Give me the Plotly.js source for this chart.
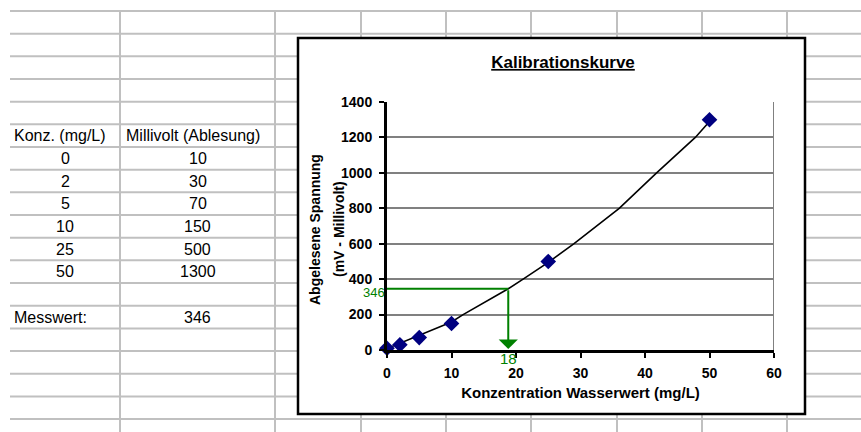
<!DOCTYPE html>
<html>
<head>
<meta charset="utf-8">
<script src="https://cdn.plot.ly/plotly-3.0.1.min.js"></script>
<style>
  html, body { margin: 0; padding: 0; background: #ffffff; }
  #chart { width: 861px; height: 432px; }
</style>
</head>
<body>
<div id="chart"></div>
<script>
// ---- data ----
const konz = [0, 2, 5, 10, 25, 50];                 // Konz. (mg/L)
const millivolt = [10, 30, 70, 150, 500, 1300];      // Millivolt (Ablesung)
const trendX = [0, 2, 5, 10, 11.8, 15, 18.8, 21.1, 25, 29, 36, 41.8, 47.8, 50];
const trendY = [8, 38, 80, 158, 200, 265, 346, 400, 495, 600, 800, 1000, 1200, 1290];
const messwert = [346];        // Messwert (mV)
const messKonz = [18.8];       // read concentration
const messKonzLabel = ['18'];
const yTicks = [0, 200, 400, 600, 800, 1000, 1200, 1400];
const xTicks = [0, 10, 20, 30, 40, 50, 60];
const headerA = 'Konz. (mg/L)';
const headerB = 'Millivolt (Ablesung)';
const messLabel = 'Messwert:';

// ---- page geometry (pixels) ----
const W = 861, H = 432;
const PL = 387, PR = 774, PT = 102, PB = 350;
const px = v => (v - PL) / (PR - PL);
const py = v => (PB - v) / (PB - PT);
const FONT = 'Liberation Sans, Arial, sans-serif';

const rowTop = 11, rowH = 22.67;
const rowLines = [];
for (let i = 0; i < 19; i++) rowLines.push(rowTop + i * rowH);
const colLines = [120, 275, 361, 446, 531, 617, 702, 787];
const colA = [10, 120], colB = [120, 275];
const rowCenter = r => rowTop + r * rowH + rowH / 2;

const shapes = [];
const gridStyle = {color: '#c0c0c0', width: 2};
rowLines.forEach(y => shapes.push({type: 'line', xref: 'paper', yref: 'paper', layer: 'below',
  x0: px(10), x1: px(W), y0: py(y), y1: py(y), line: gridStyle}));
colLines.forEach(x => shapes.push({type: 'line', xref: 'paper', yref: 'paper', layer: 'below',
  x0: px(x), x1: px(x), y0: py(rowTop), y1: py(H), line: gridStyle}));
// chart box
shapes.push({type: 'rect', xref: 'paper', yref: 'paper', layer: 'below',
  x0: px(298), x1: px(805), y0: py(38), y1: py(414),
  fillcolor: '#ffffff', line: {color: '#000000', width: 2.5}});
// right border of plot area
shapes.push({type: 'line', xref: 'x', yref: 'y', layer: 'below',
  x0: xTicks[xTicks.length - 1], x1: xTicks[xTicks.length - 1], y0: 0, y1: yTicks[yTicks.length - 1],
  line: {color: '#808080', width: 2}});

const annotations = [];
const tableFont = {family: FONT, size: 16, color: '#000000'};
annotations.push({xref: 'paper', yref: 'paper', x: px(12), y: py(rowCenter(5)), xanchor: 'left', yanchor: 'middle',
  text: headerA, showarrow: false, font: tableFont});
annotations.push({xref: 'paper', yref: 'paper', x: px(124), y: py(rowCenter(5)), xanchor: 'left', yanchor: 'middle',
  text: headerB, showarrow: false, font: tableFont});
konz.forEach((k, i) => {
  annotations.push({xref: 'paper', yref: 'paper', x: px((colA[0] + colA[1]) / 2), y: py(rowCenter(6 + i)),
    xanchor: 'center', yanchor: 'middle', text: String(k), showarrow: false, font: tableFont});
  annotations.push({xref: 'paper', yref: 'paper', x: px((colB[0] + colB[1]) / 2), y: py(rowCenter(6 + i)),
    xanchor: 'center', yanchor: 'middle', text: String(millivolt[i]), showarrow: false, font: tableFont});
});
annotations.push({xref: 'paper', yref: 'paper', x: px(12), y: py(rowCenter(13)), xanchor: 'left', yanchor: 'middle',
  text: messLabel, showarrow: false, font: tableFont});
annotations.push({xref: 'paper', yref: 'paper', x: px((colB[0] + colB[1]) / 2), y: py(rowCenter(13)),
  xanchor: 'center', yanchor: 'middle', text: String(messwert[0]), showarrow: false, font: tableFont});

// y-axis title (two lines)
const yTitleFont = {family: FONT, size: 14, color: '#000000', weight: 'bold'};
annotations.push({xref: 'paper', yref: 'paper', x: px(315), y: py(230), xanchor: 'center', yanchor: 'middle',
  textangle: -90, text: 'Abgelesene Spannung', showarrow: false, font: yTitleFont});
annotations.push({xref: 'paper', yref: 'paper', x: px(339), y: py(229), xanchor: 'center', yanchor: 'middle',
  textangle: -90, text: '(mV - Millivolt)', showarrow: false, font: yTitleFont});

// green reading annotations
const green = '#008000';
annotations.push({xref: 'x', yref: 'y', x: messKonz[0], y: 0, axref: 'x', ayref: 'y', ax: messKonz[0], ay: messwert[0],
  showarrow: true, arrowhead: 1, arrowsize: 1.6, arrowwidth: 2, arrowcolor: green, standoff: 1, text: ''});
annotations.push({xref: 'paper', yref: 'paper', x: px(387), y: py(292), xanchor: 'right', yanchor: 'middle',
  text: String(messwert[0]), showarrow: false, font: {family: FONT, size: 13, color: green}});
annotations.push({xref: 'x', yref: 'paper', x: messKonz[0], y: py(358), xanchor: 'center', yanchor: 'middle',
  text: messKonzLabel[0], showarrow: false, font: {family: FONT, size: 15, color: green}});

const traces = [
  {x: trendX, y: trendY, type: 'scatter', mode: 'lines', line: {color: '#000000', width: 1.6},
   hoverinfo: 'skip', cliponaxis: false, showlegend: false},
  {x: [0, messKonz[0]], y: [messwert[0], messwert[0]], type: 'scatter', mode: 'lines',
   line: {color: green, width: 2}, cliponaxis: false, showlegend: false, hoverinfo: 'skip'},
  {x: konz, y: millivolt, type: 'scatter', mode: 'markers',
   marker: {symbol: 'diamond', size: 12, color: '#000080', line: {width: 0}},
   cliponaxis: false, showlegend: false}
];

const tickFont = {family: FONT, size: 14, color: '#000000', weight: 'bold'};
const layout = {
  width: W, height: H, autosize: false,
  margin: {l: PL, r: W - PR, t: PT, b: H - PB, pad: 0},
  paper_bgcolor: '#ffffff', plot_bgcolor: 'rgba(0,0,0,0)',
  showlegend: false,
  title: {text: '<u>Kalibrationskurve</u>', x: 563 / W, y: 1 - 62 / H, xref: 'container', yref: 'container',
    xanchor: 'center', yanchor: 'middle', font: {family: FONT, size: 17, color: '#000000', weight: 'bold'}},
  xaxis: {range: [0, 60], tickvals: xTicks, showgrid: false, zeroline: false,
    showline: true, linecolor: '#000000', linewidth: 3, ticks: 'outside', ticklen: 5, tickwidth: 2,
    tickcolor: '#000000', tickfont: tickFont, ticklabelstandoff: 3, fixedrange: true,
    title: {text: 'Konzentration Wasserwert (mg/L)', standoff: 8,
      font: {family: FONT, size: 15, color: '#000000', weight: 'bold'}}},
  yaxis: {range: [0, 1400], tickvals: yTicks, showgrid: true, gridcolor: '#808080', gridwidth: 2,
    zeroline: false, showline: true, linecolor: '#000000', linewidth: 3, ticks: 'outside', ticklen: 5,
    tickwidth: 2, tickcolor: '#000000', tickfont: tickFont, ticklabelstandoff: 4, fixedrange: true},
  shapes: shapes,
  annotations: annotations
};

Plotly.newPlot('chart', traces, layout, {displayModeBar: false, staticPlot: true});
</script>
</body>
</html>
